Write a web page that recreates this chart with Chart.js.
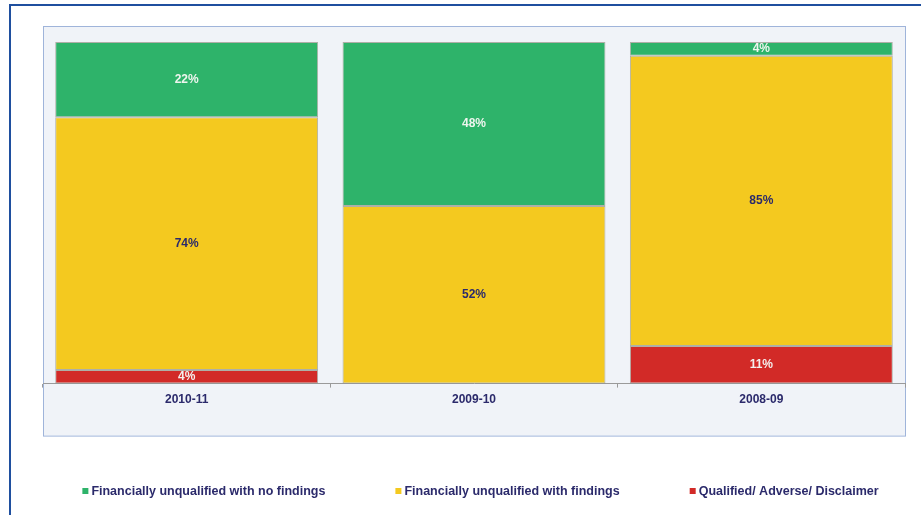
<!DOCTYPE html>
<html>
<head>
<meta charset="utf-8">
<script src="https://cdn.jsdelivr.net/npm/chart.js@4"></script>
<style>
  html, body { margin: 0; padding: 0; background: #fff; }
  #wrap { position: relative; width: 921px; height: 515px; overflow: hidden; }
  #frame {
    position: absolute; left: 9px; top: 4px; width: 930px; height: 530px;
    border-left: 2px solid #1f4f9f; border-top: 2px solid #1f4f9f;
  }
  canvas { position: absolute; left: 0; top: 0; }
</style>
</head>
<body>
<div id="wrap">
  <div id="frame"></div>
  <canvas id="chart" width="921" height="515"></canvas>
</div>
<script>
const years = ["2010-11", "2009-10", "2008-09"];
const noFindings = [22, 48, 4];
const withFindings = [74, 52, 85];
const qualified = [4, 0, 11];

const seriesNames = [
  "Financially unqualified with no findings",
  "Financially unqualified with findings",
  "Qualified/ Adverse/ Disclaimer"
];

const NAVY = "#2b2a6b";
const FONT = "Arial, 'Liberation Sans', sans-serif";

// light panel behind the bars and the year labels
const panel = {
  id: "panel",
  beforeDraw(chart) {
    const { ctx, chartArea: a } = chart;
    ctx.save();
    ctx.fillStyle = "#f0f3f8";
    ctx.strokeStyle = "#9fb4da";
    ctx.lineWidth = 1;
    ctx.fillRect(a.left, a.top - 16, a.right - a.left, a.bottom - a.top + 68);
    ctx.strokeRect(a.left + 0.5, a.top - 15.5, a.right - a.left, a.bottom - a.top + 68);
    ctx.restore();
  }
};

// percentage labels in the middle of each segment
const segmentLabels = {
  id: "segmentLabels",
  afterDatasetsDraw(chart) {
    const { ctx } = chart;
    ctx.save();
    ctx.font = "bold 12px " + FONT;
    ctx.textAlign = "center";
    ctx.textBaseline = "middle";
    chart.data.datasets.forEach((ds, i) => {
      chart.getDatasetMeta(i).data.forEach((bar, j) => {
        const v = ds.data[j];
        if (!v) return;
        ctx.fillStyle = ds.labelColor;
        ctx.fillText(v + "%", bar.x, (bar.y + bar.base) / 2);
      });
    });
    ctx.restore();
  }
};

// wide-spaced legend along the bottom, top series first
const bottomLegend = {
  id: "bottomLegend",
  afterDraw(chart) {
    const { ctx } = chart;
    const gap = 70, box = 6, textOff = 9, y = 492;
    ctx.save();
    ctx.font = "bold 12.5px " + FONT;
    ctx.textBaseline = "middle";
    const items = chart.data.datasets.slice().reverse().map(ds => ({
      text: ds.label, color: ds.backgroundColor,
      w: textOff + ctx.measureText(ds.label).width
    }));
    const total = items.reduce((s, it) => s + it.w, 0) + gap * (items.length - 1);
    let x = chart.width / 2 + 20 - total / 2;
    items.forEach(it => {
      ctx.fillStyle = it.color;
      ctx.fillRect(x, y - box / 2 - 1, box, box);
      ctx.fillStyle = NAVY;
      ctx.fillText(it.text, x + textOff, y);
      x += it.w + gap;
    });
    ctx.restore();
  }
};

new Chart(document.getElementById("chart"), {
  type: "bar",
  data: {
    labels: years,
    datasets: [
      { label: seriesNames[2], data: qualified, backgroundColor: "#d22a27", labelColor: "#f4f0ee" },
      { label: seriesNames[1], data: withFindings, backgroundColor: "#f4c91f", labelColor: NAVY },
      { label: seriesNames[0], data: noFindings, backgroundColor: "#2eb36a", labelColor: "#eef5ee" }
    ].map(ds => Object.assign(ds, {
      borderColor: "rgba(120,118,100,0.55)",
      borderWidth: 1,
      borderSkipped: false,
      categoryPercentage: 1,
      barPercentage: 0.915
    }))
  },
  options: {
    responsive: false,
    animation: false,
    layout: { padding: { left: 43, right: 16, top: 42, bottom: 103 } },
    plugins: {
      legend: { display: false },
      tooltip: { enabled: false }
    },
    scales: {
      x: {
        stacked: true,
        grid: { display: true, drawOnChartArea: false, offset: true, tickLength: 4, color: "#9a9a9a" },
        border: { display: true, color: "#9a9a9a" },
        ticks: { color: NAVY, font: { family: FONT, size: 12, weight: "bold" }, padding: 5 }
      },
      y: {
        stacked: true,
        display: false,
        min: 0,
        max: 100
      }
    }
  },
  plugins: [panel, segmentLabels, bottomLegend]
});
</script>
</body>
</html>
